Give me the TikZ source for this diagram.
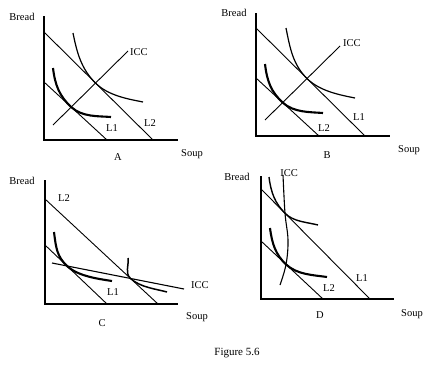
\documentclass[tikz,border=0pt]{standalone}
\usepackage{fontspec}
\setmainfont{Liberation Serif}
\usetikzlibrary{calc}
\begin{document}
\begin{tikzpicture}[x=1pt,y=-1pt,
  axis/.style={line width=2.2pt},
  bline/.style={line width=0.9pt},
  thincurve/.style={line width=1.2pt},
  thickcurve/.style={line width=2.1pt},
  lbl/.style={font=\fontsize{10.5}{12}\selectfont, inner sep=0pt},
]
\path[use as bounding box] (0,0) rectangle (425,367);

% ---------- Panel A ----------
\draw[axis] (44,16) -- (44,140) -- (178,140);
\coordinate (A2a) at (44,32);  \coordinate (A2b) at (153,140);
\coordinate (A1a) at (44,82);  \coordinate (A1b) at (107,140);
\coordinate (Ai1) at (53,125); \coordinate (Ai2) at (128,51);
\draw[bline] (A2a) -- (A2b);
\draw[bline] (A1a) -- (A1b);
\draw[bline] (Ai1) -- (Ai2);
\coordinate (AT2) at (intersection of A2a--A2b and Ai1--Ai2);
\coordinate (AT1) at (intersection of A1a--A1b and Ai1--Ai2);
\draw[thincurve] (73,33) .. controls (77,53) and ($(AT2)!20pt!(A2a)$) .. (AT2)
  .. controls ($(AT2)!18pt!(A2b)$) and (128,99) .. (143,102);
\draw[thickcurve] (53,68) .. controls (55,85) and ($(AT1)!16pt!(A1a)$) .. (AT1)
  .. controls ($(AT1)!15pt!(A1b)$) and (98,116) .. (111,117);
\node[lbl] (Abread) at (22,17) {Bread};
\node[lbl,anchor=west] (Aicc) at (130,52) {ICC};
\node[lbl] (Al1) at (112,128) {L1};
\node[lbl] (Al2) at (150,123) {L2};
\node[lbl] (Aname) at (118,157) {A};
\node[lbl] (Asoup) at (192,154) {Soup};

% ---------- Panel B ----------
\draw[axis] (256,13) -- (256,136) -- (390,136);
\coordinate (B1a) at (256,28);  \coordinate (B1b) at (365,136);
\coordinate (B2a) at (256,78);  \coordinate (B2b) at (319,136);
\coordinate (Bi1) at (265,120); \coordinate (Bi2) at (340,46);
\draw[bline] (B1a) -- (B1b);
\draw[bline] (B2a) -- (B2b);
\draw[bline] (Bi1) -- (Bi2);
\coordinate (BT1) at (intersection of B1a--B1b and Bi1--Bi2);
\coordinate (BT2) at (intersection of B2a--B2b and Bi1--Bi2);
\draw[thincurve] (286,28) .. controls (290,48) and ($(BT1)!20pt!(B1a)$) .. (BT1)
  .. controls ($(BT1)!18pt!(B1b)$) and (340,95) .. (355,98);
\draw[thickcurve] (265,64) .. controls (267,81) and ($(BT2)!16pt!(B2a)$) .. (BT2)
  .. controls ($(BT2)!15pt!(B2b)$) and (310,112) .. (323,113);
\node[lbl] (Bbread) at (234,13) {Bread};
\node[lbl,anchor=west] (Bicc) at (343,43) {ICC};
\node[lbl] (Bl1) at (359,117) {L1};
\node[lbl] (Bl2) at (324,128) {L2};
\node[lbl] (Bname) at (327,155) {B};
\node[lbl] (Bsoup) at (409,150) {Soup};

% ---------- Panel C ----------
\draw[axis] (45,180) -- (45,304) -- (178,304);
\coordinate (C2a) at (45,199);  \coordinate (C2b) at (158,304);
\coordinate (C1a) at (45,245);  \coordinate (C1b) at (107,304);
\coordinate (Ci1) at (52,263);  \coordinate (Ci2) at (184,289);
\draw[bline] (C2a) -- (C2b);
\draw[bline] (C1a) -- (C1b);
\draw[line width=1.1pt] (Ci1) -- (Ci2);
\coordinate (CT1) at (intersection of C1a--C1b and Ci1--Ci2);
\coordinate (CT2) at (intersection of C2a--C2b and Ci1--Ci2);
\draw[thickcurve] (54,232) .. controls (56,248) and ($(CT1)!14pt!(C1a)$) .. (CT1)
  .. controls ($(CT1)!15pt!(C1b)$) and (99,279) .. (112,281);
\draw[line width=1.5pt] (128,258) .. controls (129,266) and ($(CT2)!8pt!(C2a)$) .. (CT2)
  .. controls ($(CT2)!13pt!(C2b)$) and (156,289) .. (167,292);
\node[lbl] (Cbread) at (22,181) {Bread};
\node[lbl] (Cl2) at (64,198) {L2};
\node[lbl] (Cl1) at (113,292) {L1};
\node[lbl,anchor=west] (Cicc) at (191,285) {ICC};
\node[lbl] (Cname) at (102,323) {C};
\node[lbl] (Csoup) at (197,317) {Soup};

% ---------- Panel D ----------
\draw[axis] (261,176) -- (261,299) -- (394,299);
\coordinate (D1a) at (261,189);  \coordinate (D1b) at (370,299);
\coordinate (D2a) at (261,241);  \coordinate (D2b) at (323,299);
\draw[bline] (D1a) -- (D1b);
\draw[bline] (D2a) -- (D2b);
\coordinate (DT1) at (intersection of D1a--D1b and 285,150--285,320);
\coordinate (DT2) at (intersection of D2a--D2b and 286,150--286,320);
\draw[line width=1.4pt] (269,177) .. controls (271,193) and ($(DT1)!14pt!(D1a)$) .. (DT1)
  .. controls ($(DT1)!12pt!(D1b)$) and (306,222) .. (318,225);
\draw[thickcurve] (270,228) .. controls (272,244) and ($(DT2)!14pt!(D2a)$) .. (DT2)
  .. controls ($(DT2)!15pt!(D2b)$) and (313,275) .. (327,277);
\draw[line width=1.1pt] plot[smooth, tension=0.6] coordinates {(283,175) (DT1) (288,240) (DT2) (280,285)};
\node[lbl] (Dbread) at (237,177) {Bread};
\node[lbl] (Dicc) at (289,173) {ICC};
\node[lbl] (Dl1) at (362,278) {L1};
\node[lbl] (Dl2) at (329,288) {L2};
\node[lbl] (Dname) at (320,315) {D};
\node[lbl] (Dsoup) at (412,314) {Soup};

\node[inner sep=0pt, font=\fontsize{11}{13}\selectfont] (fig) at (237,353) {Figure 5.6};
\end{tikzpicture}
\end{document}
